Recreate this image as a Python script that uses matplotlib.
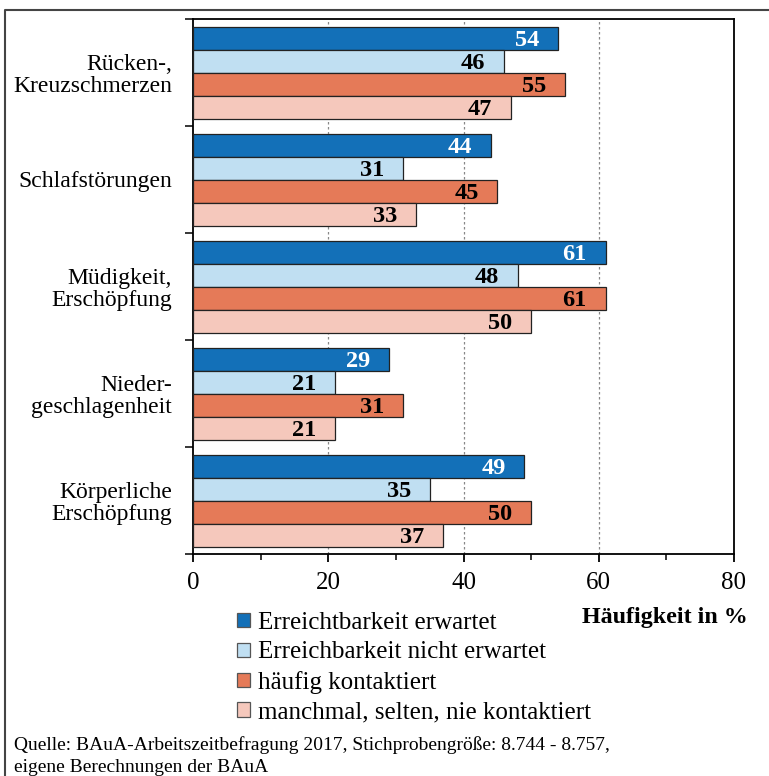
import matplotlib
matplotlib.use("Agg")
import matplotlib.pyplot as plt
from matplotlib.patches import Patch
from matplotlib.lines import Line2D
import numpy as np

plt.rcParams['font.family'] = ['Liberation Serif', 'DejaVu Serif']

categories = ["Rücken-,\nKreuzschmerzen", "Schlafstörungen", "Müdigkeit,\nErschöpfung",
              "Nieder-\ngeschlagenheit", "Körperliche\nErschöpfung"]
series_names = ["Erreichtbarkeit erwartet", "Erreichbarkeit nicht erwartet",
                "häufig kontaktiert", "manchmal, selten, nie kontaktiert"]
erwartet = [54, 44, 61, 29, 49]
nicht_erwartet = [46, 31, 48, 21, 35]
haeufig = [55, 45, 61, 31, 50]
selten = [47, 33, 50, 21, 37]
series_values = [erwartet, nicht_erwartet, haeufig, selten]
colors = ["#1370b8", "#c0dff2", "#e57a58", "#f5c8bc"]
text_colors = ["white", "black", "black", "black"]
xticks = [0, 20, 40, 60, 80]

W, H = 769, 776
fig = plt.figure(figsize=(W / 100, H / 100), dpi=100)
ax = fig.add_axes([193 / W, (H - 554) / H, (734 - 193) / W, (554 - 19) / H])

h = 23 / 107
n = len(categories)
for j, vals in enumerate(series_values):
    y = np.arange(n) + 0.5 + (j - 1.5) * h + 0.006
    ax.barh(y, vals, height=h, color=colors[j], edgecolor="#222222",
            linewidth=0.9, zorder=3, label=series_names[j])
    for yy, v in zip(y, vals):
        ax.annotate(f"{v}", xy=(v, yy), xytext=(-13.5, -1), textcoords="offset points",
                    ha="right", va="center", fontsize=17.5, fontweight="bold",
                    color=text_colors[j], zorder=4)

ax.set_xlim(0, 80)
ax.set_ylim(n, 0)
ax.set_xticks(xticks)
ax.set_xticklabels([str(t) for t in xticks], fontsize=18)
ax.set_xticks([10, 30, 50, 70], minor=True)
ax.tick_params(axis="x", which="major", direction="out", length=6, width=1.3, pad=7)
ax.tick_params(axis="x", which="minor", direction="out", length=4, width=1.1)

ax.set_yticks(np.arange(n + 1))
ax.set_yticklabels([])
ax.set_yticks(np.arange(n) + 0.5, minor=True)
ax.set_yticklabels(categories, minor=True, fontsize=17)
ax.tick_params(axis="y", which="major", direction="out", length=6, width=1.1)
ax.tick_params(axis="y", which="minor", length=0, pad=15)
for lab in ax.get_yticklabels(minor=True):
    lab.set_multialignment("right")
    lab.set_linespacing(1.05)

for g in [20, 40, 60]:
    ax.axvline(g, color="#888888", linestyle=(0, (2, 2)), linewidth=0.9, zorder=1)

for s in ax.spines.values():
    s.set_linewidth(1.3)
    s.set_color("black")

handles = [Patch(facecolor=c, edgecolor="#555555", linewidth=0.9) for c in colors]
fig.legend(handles, series_names, loc="upper left",
           bbox_to_anchor=(237 / W, 1 - 612 / H), frameon=False, fontsize=18,
           handlelength=0.5, handleheight=0.5, handletextpad=0.35,
           labelspacing=0.30, borderpad=0, borderaxespad=0)

fig.text(748 / W, 1 - 617 / H, "Häufigkeit in %", ha="right", va="center",
         fontsize=17.3, fontweight="bold")

fig.text(14 / W, 1 - 745 / H, "Quelle: BAuA-Arbeitszeitbefragung 2017, Stichprobengröße: 8.744 - 8.757,",
         ha="left", va="center", fontsize=14)
fig.text(14 / W, 1 - 767 / H, "eigene Berechnungen der BAuA",
         ha="left", va="center", fontsize=14)

fig.add_artist(Line2D([5 / W, 5 / W, 1.0], [0.0, 1 - 10 / H, 1 - 10 / H],
                      transform=fig.transFigure, color="#444444", linewidth=1.5))

fig.savefig("out.png", dpi=100)
